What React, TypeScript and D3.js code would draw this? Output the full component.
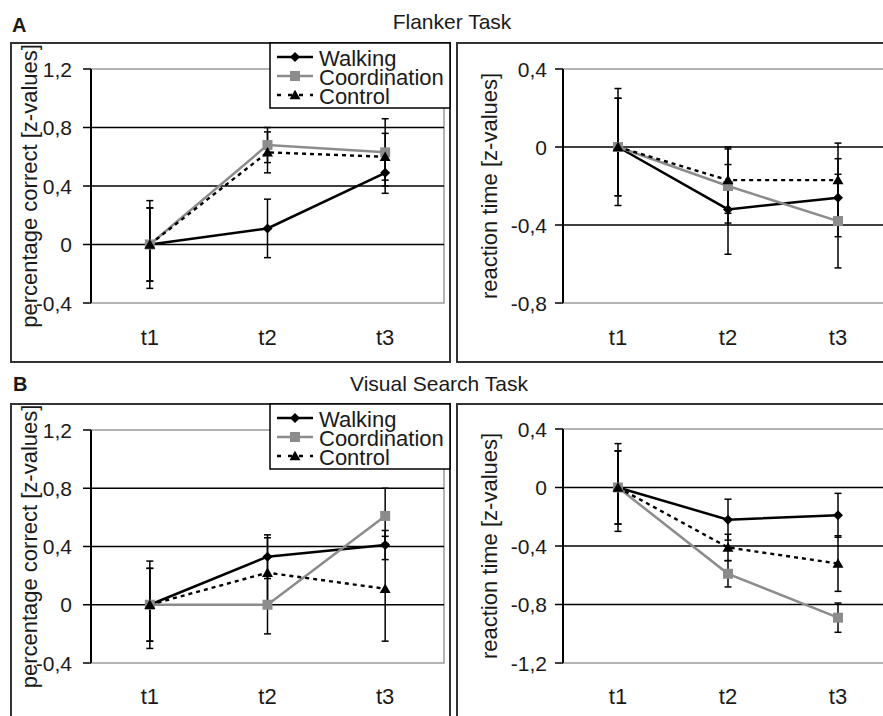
import React from 'react';
import * as d3 from 'd3';

const categories = ['t1', 't2', 't3'];
const seriesNames = ['Walking', 'Coordination', 'Control'];

// A: Flanker Task – percentage correct
const flankerAccWalking = [0, 0.11, 0.49];
const flankerAccWalkingErr = [0.30, 0.20, 0.14];
const flankerAccCoord = [0, 0.68, 0.63];
const flankerAccCoordErr = [0.25, 0.12, 0.23];
const flankerAccControl = [0, 0.63, 0.60];
const flankerAccControlErr = [0.25, 0.14, 0.16];

// A: Flanker Task – reaction time
const flankerRtWalking = [0, -0.32, -0.26];
const flankerRtWalkingErr = [0.30, 0.23, 0.20];
const flankerRtCoord = [0, -0.20, -0.38];
const flankerRtCoordErr = [0.25, 0.19, 0.24];
const flankerRtControl = [0, -0.17, -0.17];
const flankerRtControlErr = [0.25, 0.17, 0.19];

// B: Visual Search Task – percentage correct
const vsAccWalking = [0, 0.33, 0.41];
const vsAccWalkingErr = [0.30, 0.15, 0.10];
const vsAccCoord = [0, 0.0, 0.61];
const vsAccCoordErr = [0.25, 0.20, 0.19];
const vsAccControl = [0, 0.22, 0.11];
const vsAccControlErr = [0.25, 0.24, 0.36];

// B: Visual Search Task – reaction time
const vsRtWalking = [0, -0.22, -0.19];
const vsRtWalkingErr = [0.30, 0.14, 0.15];
const vsRtCoord = [0, -0.59, -0.89];
const vsRtCoordErr = [0.25, 0.09, 0.10];
const vsRtControl = [0, -0.41, -0.52];
const vsRtControlErr = [0.25, 0.09, 0.19];

const accTicks = [-0.4, 0, 0.4, 0.8, 1.2];
const flankerRtTicks = [-0.8, -0.4, 0, 0.4];
const vsRtTicks = [-1.2, -0.8, -0.4, 0, 0.4];

const FONT = 'Arial, "Liberation Sans", sans-serif';
const TEXT = '#1a1a1a';
const GRAY = '#8c8c8c';

const fmt = (v: number) => (Math.abs(v) < 1e-9 ? '0' : v.toFixed(1).replace('.', ','));

type Series = { name: string; values: number[]; errs: number[] };

const styles: Record<string, { color: string; dash?: string; width: number }> = {
  Walking: { color: '#000', width: 2.5 },
  Coordination: { color: GRAY, width: 2.5 },
  Control: { color: '#000', width: 2.4, dash: '4,4' },
};

function Marker({ name, x, y }: { name: string; x: number; y: number }) {
  if (name === 'Walking') {
    const r = 5;
    return <path d={`M${x},${y - r}L${x + r},${y}L${x},${y + r}L${x - r},${y}Z`} fill="#000" />;
  }
  if (name === 'Coordination') {
    return <rect x={x - 5} y={y - 5} width={10} height={10} fill={GRAY} />;
  }
  const tri = d3.symbol().type(d3.symbolTriangle).size(52)();
  return <path d={tri || ''} transform={`translate(${x},${y + 1})`} fill="#000" />;
}

type PanelProps = {
  frame: [number, number, number, number];
  plotX: [number, number];
  plotY: [number, number];
  domain: [number, number];
  ticks: number[];
  yTitle: string;
  titleX: number;
  labelRight: number;
  catBaseline: number;
  series: Series[];
  legend?: boolean;
};

function Panel(p: PanelProps) {
  const x = d3.scaleBand<string>().domain(categories).range(p.plotX);
  const y = d3.scaleLinear().domain(p.domain).range([p.plotY[1], p.plotY[0]]);
  const cx = (c: string) => (x(c) as number) + x.bandwidth() / 2;
  const [fx0, fy0, fx1, fy1] = p.frame;
  const top = y(p.domain[1]);
  const bottom = y(p.domain[0]);
  const midY = (top + bottom) / 2;
  const lineGen = d3
    .line<number>()
    .x((_, i) => cx(categories[i]))
    .y((v) => y(v));
  return (
    <g>
      <rect x={fx0} y={fy0} width={fx1 - fx0} height={fy1 - fy0} fill="#fff" stroke="#333" strokeWidth={2} />
      <rect x={p.plotX[0]} y={top} width={p.plotX[1] - p.plotX[0]} height={bottom - top} fill="none" stroke="#9a9a9a" strokeWidth={1.5} />
      {p.ticks
        .filter((t) => t !== p.domain[0] && t !== p.domain[1])
        .map((t) => (
          <line key={t} x1={p.plotX[0]} x2={p.plotX[1]} y1={y(t)} y2={y(t)} stroke="#000" strokeWidth={1.5} />
        ))}
      <line x1={p.plotX[0]} x2={p.plotX[0]} y1={top} y2={bottom} stroke="#000" strokeWidth={2} />
      {p.ticks.map((t) => (
        <g key={'t' + t}>
          <line x1={p.plotX[0] - 8} x2={p.plotX[0]} y1={y(t)} y2={y(t)} stroke="#000" strokeWidth={1.5} />
          <text x={p.labelRight} y={y(t)} dy="0.36em" textAnchor="end" fontSize={21} fontFamily={FONT} fill={TEXT}>
            {fmt(t)}
          </text>
        </g>
      ))}
      {categories.map((c) => (
        <text key={c} x={cx(c)} y={p.catBaseline} textAnchor="middle" fontSize={22} fontFamily={FONT} fill={TEXT}>
          {c}
        </text>
      ))}
      <text
        transform={`translate(${p.titleX},${midY}) rotate(-90)`}
        textAnchor="middle"
        fontSize={22}
        fontFamily={FONT}
        fill={TEXT}
      >
        {p.yTitle}
      </text>
      {p.series.map((s) => {
        const st = styles[s.name];
        return (
          <g key={s.name}>
            <path d={lineGen(s.values) || ''} fill="none" stroke={st.color} strokeWidth={st.width} strokeDasharray={st.dash} />
            {s.values.map((v, i) => {
              const px = cx(categories[i]);
              const y1 = y(v + s.errs[i]);
              const y2 = y(v - s.errs[i]);
              return (
                <g key={i} stroke="#000" strokeWidth={1.5}>
                  <line x1={px} x2={px} y1={y1} y2={y2} />
                  <line x1={px - 3.5} x2={px + 3.5} y1={y1} y2={y1} />
                  <line x1={px - 3.5} x2={px + 3.5} y1={y2} y2={y2} />
                </g>
              );
            })}
          </g>
        );
      })}
      {p.series.map((s) =>
        s.values.map((v, i) => <Marker key={s.name + i} name={s.name} x={cx(categories[i])} y={y(v)} />)
      )}
      {p.legend && (
        <g>
          <rect x={270} y={fy0} width={fx1 - 270} height={65} fill="#fff" stroke="#000" strokeWidth={1.5} />
          {seriesNames.map((n, i) => {
            const st = styles[n];
            const base = fy0 + 23 + i * 19;
            const ly = base - 9;
            return (
              <g key={n}>
                <line x1={277} x2={313} y1={ly} y2={ly} stroke={st.color} strokeWidth={st.width} strokeDasharray={st.dash ? '4,7' : undefined} />
                <Marker name={n} x={295} y={ly} />
                <text x={319} y={base} fontSize={22} fontFamily={FONT} fill={TEXT}>
                  {n}
                </text>
              </g>
            );
          })}
        </g>
      )}
    </g>
  );
}

const mk = (w: number[], we: number[], c: number[], ce: number[], k: number[], ke: number[]): Series[] => [
  { name: 'Walking', values: w, errs: we },
  { name: 'Coordination', values: c, errs: ce },
  { name: 'Control', values: k, errs: ke },
];

export default function App() {
  return (
    <svg width={883} height={716} style={{ position: 'absolute', left: 0, top: 0, background: '#fff' }}>
      <rect x={0} y={0} width={883} height={716} fill="#fff" />
      <text x={12} y={32} fontSize={20} fontWeight="bold" fontFamily={FONT} fill={TEXT}>A</text>
      <text x={452} y={29} textAnchor="middle" fontSize={21} fontFamily={FONT} fill={TEXT}>Flanker Task</text>
      <text x={13} y={391} fontSize={20} fontWeight="bold" fontFamily={FONT} fill={TEXT}>B</text>
      <text x={439} y={391} textAnchor="middle" fontSize={21} fontFamily={FONT} fill={TEXT}>Visual Search Task</text>

      <Panel
        frame={[11, 43, 450, 362]}
        plotX={[91, 444]}
        plotY={[69, 303]}
        domain={[-0.4, 1.2]}
        ticks={accTicks}
        yTitle="percentage correct [z-values]"
        titleX={37}
        labelRight={72}
        catBaseline={345}
        series={mk(flankerAccWalking, flankerAccWalkingErr, flankerAccCoord, flankerAccCoordErr, flankerAccControl, flankerAccControlErr)}
        legend
      />
      <Panel
        frame={[457, 43, 900, 362]}
        plotX={[563, 893]}
        plotY={[69, 303]}
        domain={[-0.8, 0.4]}
        ticks={flankerRtTicks}
        yTitle="reaction time [z-values]"
        titleX={497}
        labelRight={547}
        catBaseline={345}
        series={mk(flankerRtWalking, flankerRtWalkingErr, flankerRtCoord, flankerRtCoordErr, flankerRtControl, flankerRtControlErr)}
      />
      <Panel
        frame={[11, 404, 450, 730]}
        plotX={[91, 444]}
        plotY={[430, 663]}
        domain={[-0.4, 1.2]}
        ticks={accTicks}
        yTitle="percentage correct [z-values]"
        titleX={37}
        labelRight={72}
        catBaseline={704}
        series={mk(vsAccWalking, vsAccWalkingErr, vsAccCoord, vsAccCoordErr, vsAccControl, vsAccControlErr)}
        legend
      />
      <Panel
        frame={[457, 404, 900, 730]}
        plotX={[563, 893]}
        plotY={[429, 663]}
        domain={[-1.2, 0.4]}
        ticks={vsRtTicks}
        yTitle="reaction time [z-values]"
        titleX={497}
        labelRight={547}
        catBaseline={704}
        series={mk(vsRtWalking, vsRtWalkingErr, vsRtCoord, vsRtCoordErr, vsRtControl, vsRtControlErr)}
      />
    </svg>
  );
}
